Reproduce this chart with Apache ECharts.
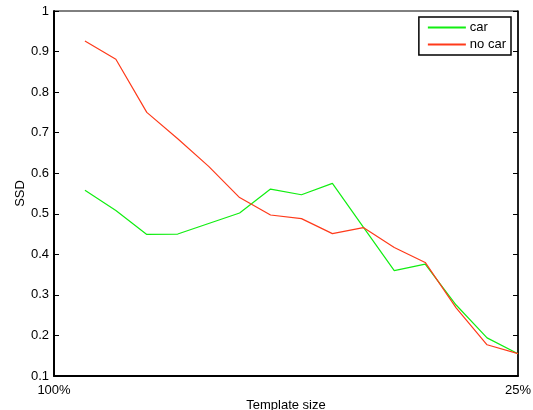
<!DOCTYPE html>
<html>
<head>
<meta charset="utf-8">
<script src="https://cdn.jsdelivr.net/npm/echarts@6/dist/echarts.min.js"></script>
<style>
html,body{margin:0;padding:0;background:#fff;}
#c{width:533px;height:410px;}
</style>
</head>
<body>
<div id="c"></div>
<script>
const xs = [1,2,3,4,5,6,7,8,9,10,11,12,13,14,15];
const carValues   = [0.558,0.508,0.449,0.450,0.476,0.502,0.561,0.547,0.575,0.467,0.360,0.376,0.275,0.194,0.155];
const noCarValues = [0.926,0.881,0.750,0.685,0.617,0.540,0.497,0.488,0.451,0.466,0.417,0.380,0.268,0.177,0.155];
const xTickLabels = {0:'100%', 15:'25%'};
const seriesNames = ['car','no car'];

const font = 'Liberation Sans, Arial, Helvetica, sans-serif';
const chart = echarts.init(document.getElementById('c'), null, {renderer:'canvas'});
chart.setOption({
  animation:false,
  backgroundColor:'#fff',
  grid:{left:54,right:15,top:11,bottom:34,outerBoundsMode:'none',containLabel:false,show:true,borderColor:'#000',borderWidth:1,backgroundColor:'transparent'},
  legend:{
    right:22, top:17,
    orient:'vertical',
    itemWidth:38, itemHeight:2, itemGap:4,
    padding:[4,5,4,9],
    borderColor:'#000', borderWidth:1.5, borderRadius:0,
    backgroundColor:'#fff',
    textStyle:{fontFamily:font,fontSize:13,color:'#000',padding:[0,0,0,-1]},
    icon:'rect',
    data:seriesNames
  },
  xAxis:[{
    type:'value', min:0, max:15, interval:15,
    axisLine:{show:true,onZero:false,lineStyle:{color:'#000',width:2}},
    axisTick:{show:false},
    splitLine:{show:false},
    axisLabel:{fontFamily:font,fontSize:13,color:'#000',margin:8,formatter:v=>xTickLabels[v]||''},
    name:'Template size', nameLocation:'middle', nameGap:23, nameMoveOverlap:false,
    nameTextStyle:{fontFamily:font,fontSize:13,color:'#000'}
  }],
  yAxis:[{
    type:'value', min:0.1, max:1, interval:0.1,
    axisLine:{show:true,onZero:false,lineStyle:{color:'#000',width:2}},
    axisTick:{show:true,inside:true,length:5,lineStyle:{color:'#000',width:1}},
    splitLine:{show:false},
    axisLabel:{fontFamily:font,fontSize:13,color:'#000',margin:5,formatter:v=>{const r=Math.round(v*10)/10;return r===1?'1':r.toFixed(1);}},
    name:'SSD', nameLocation:'middle', nameGap:27, nameMoveOverlap:false,
    nameTextStyle:{fontFamily:font,fontSize:13,color:'#000'}
  },{
    type:'value', min:0.1, max:1, interval:0.1, position:'right',
    axisLine:{show:true,onZero:false,lineStyle:{color:'#000',width:1.5}},
    axisTick:{show:true,inside:true,length:5,lineStyle:{color:'#000',width:1}},
    splitLine:{show:false},
    axisLabel:{show:false}
  }],
  series:[{
    name:seriesNames[0], type:'line', yAxisIndex:0,
    data:xs.map((x,i)=>[x,carValues[i]]),
    symbol:'none', lineStyle:{color:'#11ee11',width:1.2}, itemStyle:{color:'#11ee11'}
  },{
    name:seriesNames[1], type:'line', yAxisIndex:0,
    data:xs.map((x,i)=>[x,noCarValues[i]]),
    symbol:'none', lineStyle:{color:'#ff3a1a',width:1.2}, itemStyle:{color:'#ff3a1a'}
  }]
});
</script>
</body>
</html>
